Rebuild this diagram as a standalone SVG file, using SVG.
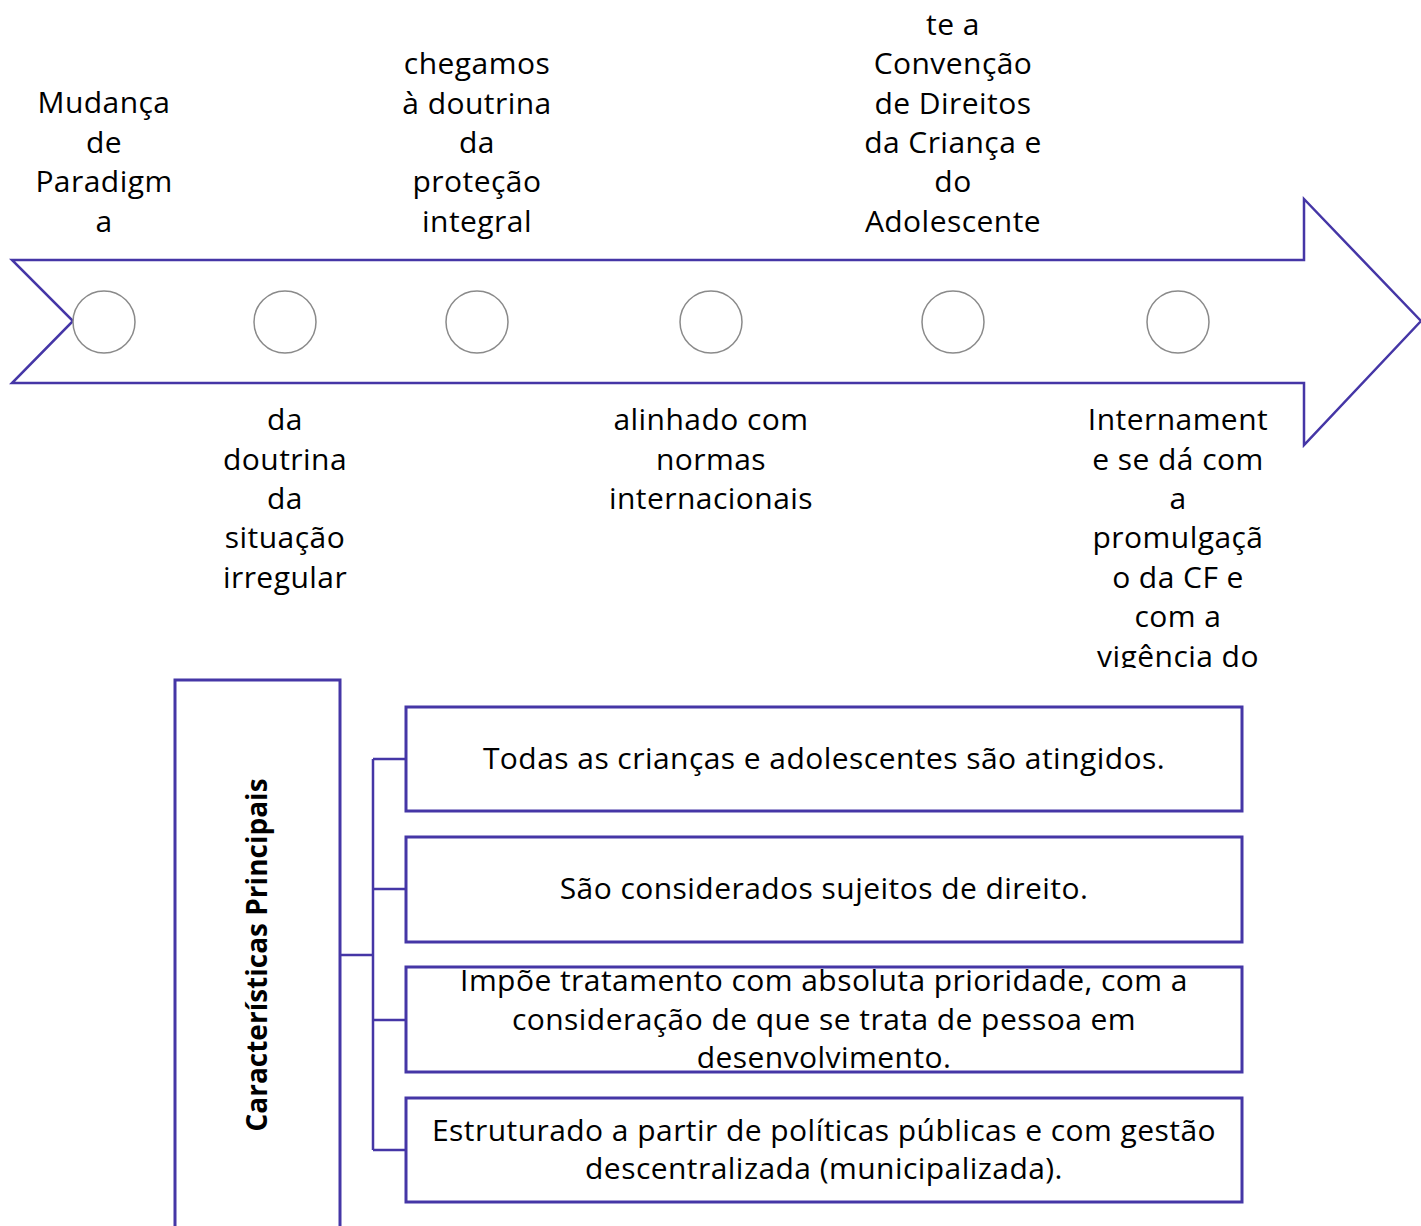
<svg xmlns="http://www.w3.org/2000/svg" width="1421" height="1226" viewBox="0 0 1421 1226">
<style>
.ln{fill:none;stroke:#4536a6;stroke-width:2.5}
.c{fill:#fff;stroke:#8a8a8a;stroke-width:1.5}
.t{font-family:"Open Sans",Lato,sans-serif;font-size:30px;letter-spacing:0.45px;fill:#000;text-anchor:middle}
.h{font-family:"Open Sans",Lato,sans-serif;font-size:28px;font-weight:bold;fill:#000;text-anchor:middle}
.b{fill:#fff;stroke:#4536a6;stroke-width:3}
</style>
<defs>
<clipPath id="clipTop"><rect x="0" y="0" width="1421" height="250"/></clipPath>
<clipPath id="clipBot"><rect x="0" y="395" width="1421" height="273"/></clipPath>
</defs>
<g id="arrow">
<path class="ln" d="M12,260 L1304,260 L1304,199 L1421,321 L1304,445 L1304,383 L12,383 L73,321 Z"/>
</g>
<g id="n1"><circle class="c" cx="104" cy="322" r="31"/>
<text class="t" clip-path="url(#clipTop)"><tspan x="104" y="113">Mudança</tspan><tspan x="104" y="153">de</tspan><tspan x="104" y="192">Paradigm</tspan><tspan x="104" y="232">a</tspan></text></g>
<g id="n2"><circle class="c" cx="285" cy="322" r="31"/>
<text class="t" clip-path="url(#clipBot)"><tspan x="285" y="430">da</tspan><tspan x="285" y="470">doutrina</tspan><tspan x="285" y="509">da</tspan><tspan x="285" y="548">situação</tspan><tspan x="285" y="588">irregular</tspan></text></g>
<g id="n3"><circle class="c" cx="477" cy="322" r="31"/>
<text class="t" clip-path="url(#clipTop)"><tspan x="477" y="74">chegamos</tspan><tspan x="477" y="114">à doutrina</tspan><tspan x="477" y="153">da</tspan><tspan x="477" y="192">proteção</tspan><tspan x="477" y="232">integral</tspan></text></g>
<g id="n4"><circle class="c" cx="711" cy="322" r="31"/>
<text class="t" clip-path="url(#clipBot)"><tspan x="711" y="430">alinhado com</tspan><tspan x="711" y="470">normas</tspan><tspan x="711" y="509">internacionais</tspan></text></g>
<g id="n5"><circle class="c" cx="953" cy="322" r="31"/>
<text class="t" clip-path="url(#clipTop)"><tspan x="953" y="35">te a</tspan><tspan x="953" y="74">Convenção</tspan><tspan x="953" y="114">de Direitos</tspan><tspan x="953" y="153">da Criança e</tspan><tspan x="953" y="192">do</tspan><tspan x="953" y="232">Adolescente</tspan></text></g>
<g id="n6"><circle class="c" cx="1178" cy="322" r="31"/>
<text class="t" clip-path="url(#clipBot)"><tspan x="1178" y="430">Internament</tspan><tspan x="1178" y="470">e se dá com</tspan><tspan x="1178" y="509">a</tspan><tspan x="1178" y="548">promulgaçã</tspan><tspan x="1178" y="588">o da CF e</tspan><tspan x="1178" y="627">com a</tspan><tspan x="1178" y="667">vigência do</tspan></text></g>
<g id="connectors">
<path class="ln" d="M340,955 H373 M373,759 V1150 M373,759 H406 M373,889 H406 M373,1020 H406 M373,1150 H406"/>
</g>
<g id="main"><rect class="b" x="175" y="680" width="165" height="560"/>
<text class="h" transform="translate(267,955) rotate(-90)" x="0" y="0">Características Principais</text></g>
<g id="b1"><rect class="b" x="406" y="707" width="836" height="104"/>
<text class="t" x="824" y="769">Todas as crianças e adolescentes são atingidos.</text></g>
<g id="b2"><rect class="b" x="406" y="837" width="836" height="105"/>
<text class="t" x="824" y="899">São considerados sujeitos de direito.</text></g>
<g id="b3"><rect class="b" x="406" y="967" width="836" height="105"/>
<text class="t"><tspan x="824" y="991">Impõe tratamento com absoluta prioridade, com a</tspan><tspan x="824" y="1030">consideração de que se trata de pessoa em</tspan><tspan x="824" y="1068">desenvolvimento.</tspan></text></g>
<g id="b4"><rect class="b" x="406" y="1098" width="836" height="104"/>
<text class="t"><tspan x="824" y="1141">Estruturado a partir de políticas públicas e com gestão</tspan><tspan x="824" y="1179">descentralizada (municipalizada).</tspan></text></g>
</svg>
